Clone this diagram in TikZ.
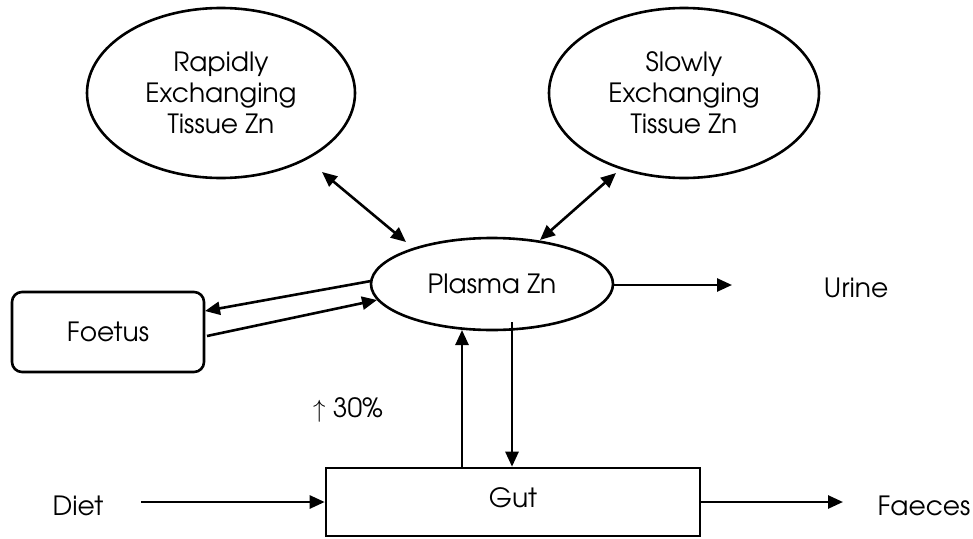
\documentclass[tikz,border=0pt]{standalone}
\usepackage{fontspec}
\setmainfont{texgyreadventor-regular.otf}
\usetikzlibrary{arrows.meta,shapes.geometric}
\begin{document}
\begin{tikzpicture}[x=1pt,y=-1pt,
  lw/.style={line width=2.6pt},
  tip/.style={-{Triangle[length=15pt,width=13pt]}},
  bitip/.style={{Triangle[length=15pt,width=13pt]}-{Triangle[length=15pt,width=13pt]}},
  txt/.style={font=\fontsize{26.5}{31}\selectfont, align=center, inner sep=0pt}]
\useasboundingbox (0,0) rectangle (973,538);
% ellipses
\node[draw,lw,ellipse,minimum width=268pt,minimum height=170pt,txt] (rapid) at (221,93) {Rapidly\\Exchanging\\Tissue Zn};
\node[draw,lw,ellipse,minimum width=270pt,minimum height=170pt,txt] (slow) at (684,93) {Slowly\\Exchanging\\Tissue Zn};
\node[draw,lw,ellipse,minimum width=242pt,minimum height=92pt,txt] (plasma) at (492,284) {Plasma Zn};
\node[draw,lw,rounded corners=10pt,minimum width=192pt,minimum height=80pt,txt] (foetus) at (108,332) {Foetus};
\node[draw,lw,minimum width=374pt,minimum height=68pt,txt] (gut) at (513,502) {};
\node[txt] (guttext) at (513,498) {Gut};
\node[txt] (urine) at (856,288) {Urine};
\node[txt] (diet) at (78,506) {Diet};
\node[txt] (faeces) at (924,506) {Faeces};
\node[txt] (pct) at (348,410) {{\fontsize{30}{30}\selectfont$\uparrow$} 30\%};
\coordinate (urA) at (612,285);
\coordinate (urB) at (732,285);
\coordinate (dA) at (141,502);
\coordinate (faB) at (843,502);
% connectors
\draw[lw,bitip] (322,172) -- (406,242);
\draw[lw,bitip] (616,173) -- (540,240);
\draw[lw,tip] (urA) -- (urB);
\draw[lw,tip] (371,281) -- (205,311);
\draw[lw,tip] (207,336) -- (377,300);
\draw[lw,tip] (gut.north -| 462,0) -- (462,330);
\draw[lw,tip] (512,322) -- (gut.north -| 512,0);
\draw[lw,tip] (dA) -- (gut.west);
\draw[lw,tip] (gut.east) -- (faB);
\end{tikzpicture}
\end{document}
